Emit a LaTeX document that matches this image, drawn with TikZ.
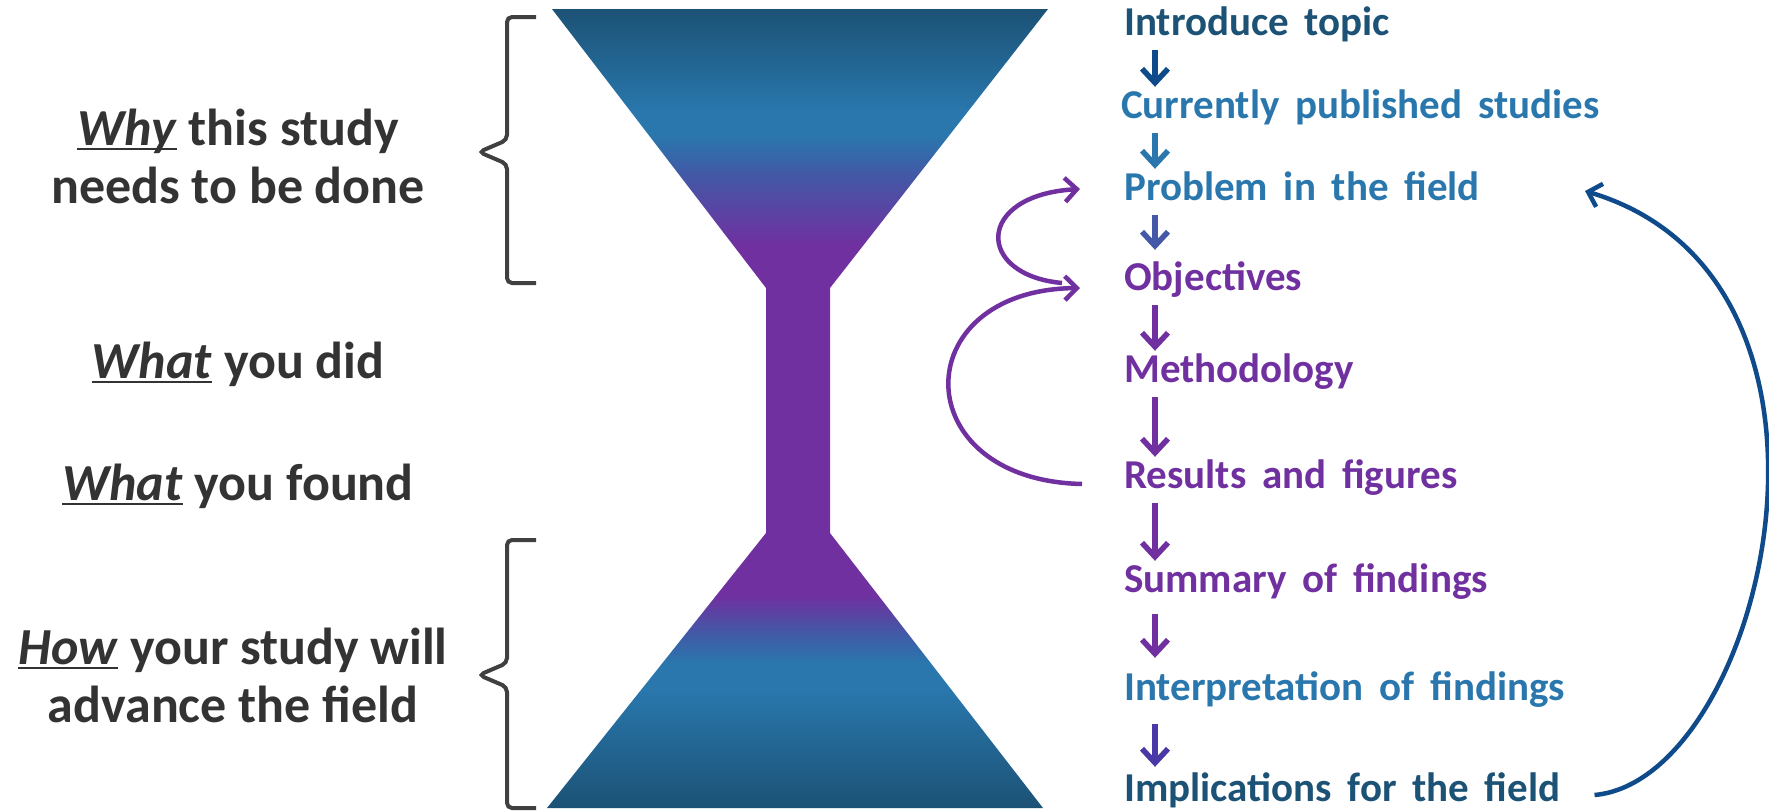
\documentclass[tikz,border=0pt]{standalone}
\usepackage{fontspec}
\setmainfont{Carlito}
\newfontfamily\stagefont{Carlito}[WordSpace=1.7]
\usetikzlibrary{arrows.meta,positioning}

\definecolor{tealdark}{HTML}{1C5275}
\definecolor{fieldblue}{HTML}{2977AD}
\definecolor{blendblue}{HTML}{4358A6}
\definecolor{studypurple}{HTML}{7030A0}
\definecolor{textgray}{HTML}{333333}
\definecolor{bracegray}{HTML}{404040}
\definecolor{loopblue}{HTML}{0F4A8A}
\definecolor{indigo}{HTML}{4A38A6}

\pgfdeclareverticalshading{hourglass}{100bp}{color(0bp)=(tealdark); color(25bp)=(tealdark);
  color(32.4bp)=(fieldblue); color(34.1bp)=(fieldblue); color(36bp)=(blendblue); color(38.3bp)=(studypurple);
  color(60.2bp)=(studypurple); color(64.6bp)=(blendblue); color(67.1bp)=(fieldblue); color(68.6bp)=(fieldblue);
  color(75bp)=(tealdark); color(100bp)=(tealdark)}

\newcommand\wordline[1]{\setbox0\hbox{#1}\rlap{\rule[-5pt]{\wd0}{2.2pt}}\box0\relax}

\begin{document}
\begin{tikzpicture}[x=1pt,y=-1pt,
   reason/.style={font=\fontsize{52}{58}\selectfont\bfseries,text=textgray,align=center,inner sep=0,anchor=base},
   stage/.style={font=\stagefont\fontsize{41}{46}\selectfont\bfseries,anchor=base west,inner sep=0,text height=28pt,text depth=8pt},
   flow/.style={line width=5.5pt,-{Straight Barb[length=14pt,width=26pt]},shorten <=7pt,shorten >=3pt},
   bracket/.style={line width=4pt,draw=bracegray,rounded corners=5pt},
   loop/.style={line width=4.5pt,draw=studypurple,-{Straight Barb[length=12pt,width=24pt]}}]
   \fill[white] (0,0) rectangle (1769,811);
   \useasboundingbox (0,0) rectangle (1769,811);

   % hourglass
   \shade[shading=hourglass] (552,9) -- (1048,9) -- (830,288) -- (830,533) -- (1043,808)
      -- (547,808) -- (766,533) -- (766,288) -- cycle;

   % braces
   \draw[bracket] (536,17) -- (507,17) -- (507,140) -- (479,152) -- (507,164) -- (507,283) -- (536,283);
   \draw[bracket] (536,540) -- (507,540) -- (507,663) -- (479,675) -- (507,687) -- (507,808) -- (536,808);

   % left column (base = last line)
   \node[reason] (why) at (238,203) {\wordline{\textit{Why}} this study\\needs to be done};
   \node[reason] (did) at (238,378) {\wordline{\textit{What}} you did};
   \node[reason] (found) at (238,500) {\wordline{\textit{What}} you found};
   \node[reason] (how) at (233,722) {\wordline{\textit{How}} your study will\\advance the field};

   % right column
   \node[stage,text=tealdark] (intro) at (1124,35) {Introduce topic};
   \node[stage,text=fieldblue] (pub) at (1121,118) {Currently published studies};
   \node[stage,text=fieldblue] (prob) at (1124,200) {Problem in the field};
   \node[stage,text=studypurple] (obj) at (1124,290) {Objectives};
   \node[stage,text=studypurple] (meth) at (1124,382) {Methodology};
   \node[stage,text=studypurple] (res) at (1124,488) {Results and figures};
   \node[stage,text=studypurple] (summ) at (1124,592) {Summary of findings};
   \node[stage,text=fieldblue] (interp) at (1124,700) {Interpretation of findings};
   \node[stage,text=tealdark] (impl) at (1124,801) {Implications for the field};

   \draw[flow,draw=loopblue] ([xshift=31pt]intro.south west) -- ([xshift=34pt]pub.north west);
   \draw[flow,draw=fieldblue] ([xshift=34pt]pub.south west) -- ([xshift=31pt]prob.north west);
   \draw[flow,draw=blendblue,shorten >=12pt] ([xshift=31pt]prob.south west) -- ([xshift=31pt]obj.north west);
   \draw[flow,draw=studypurple] ([xshift=31pt]obj.south west) -- ([xshift=31pt]meth.north west);
   \draw[flow,draw=studypurple] ([xshift=31pt]meth.south west) -- ([xshift=31pt]res.north west);
   \draw[flow,draw=studypurple] ([xshift=31pt]res.south west) -- ([xshift=31pt]summ.north west);
   \draw[flow,draw=studypurple,shorten <=14pt,shorten >=14pt] ([xshift=31pt]summ.south west) -- ([xshift=31pt]interp.north west);
   \draw[flow,draw=indigo,shorten <=16pt,shorten >=6pt] ([xshift=31pt]interp.south west) -- ([xshift=31pt]impl.north west);

   % feedback loops
   \draw[loop] ([xshift=-62pt,yshift=7pt]obj.base west) .. controls +(-87,-8) and +(-105,6) .. ([xshift=-44pt,yshift=11pt]prob.base west);
   \draw[loop] ([xshift=-42pt,yshift=4pt]res.base west) .. controls +(-177,-4) and +(-175,2) .. ([xshift=-44pt,yshift=2pt]obj.base west);
   \draw[line width=4.5pt,draw=loopblue,-{Straight Barb[length=12pt,width=24pt]}]
      ([xshift=34pt,yshift=6pt]impl.base east) .. controls +(169,-15) and +(298,89) .. ([xshift=105pt,yshift=9pt]prob.base east);
\end{tikzpicture}
\end{document}
